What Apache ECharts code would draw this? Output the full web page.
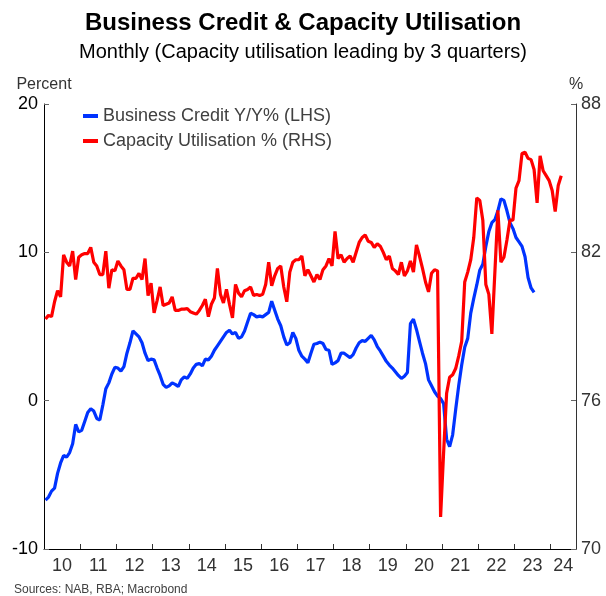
<!DOCTYPE html>
<html>
<head>
<meta charset="utf-8">
<script src="https://cdn.jsdelivr.net/npm/echarts@6/dist/echarts.min.js"></script>
<style>
  html, body { margin: 0; padding: 0; background: #fff; }
  #chart { width: 606px; height: 596px; }
</style>
</head>
<body>
<div id="chart"></div>
<script>
// monthly data, first value = Jan 2010
const startYear = 2010
const years = [2010, 2011, 2012, 2013, 2014, 2015, 2016, 2017, 2018, 2019, 2020, 2021, 2022, 2023, 2024]

// Business credit, year-on-year %, LHS
const businessCredit = [
  -6.7, -6.5, -6.1, -5.9, -4.9, -4.2, -3.7, -3.8, -3.5, -2.9,
  -1.6, -2.1, -2.0, -1.4, -0.8, -0.55, -0.7, -1.2, -1.3, -0.3,
  0.8, 1.2, 1.8, 2.25, 2.2, 2.0, 2.3, 3.2, 3.9, 4.7,
  4.5, 4.3, 3.9, 3.2, 2.7, 2.8, 2.75, 2.2, 1.7, 1.1,
  0.9, 1.0, 1.2, 1.1, 0.95, 1.4, 1.6, 1.5, 1.8, 2.2,
  2.45, 2.5, 2.35, 2.8, 2.75, 3.0, 3.4, 3.7, 4.0, 4.3,
  4.6, 4.75, 4.5, 4.6, 4.2, 4.3, 4.7, 5.3, 5.9, 5.8,
  5.65, 5.7, 5.65, 5.8, 5.95, 6.7, 6.1, 5.5, 5.05, 4.3,
  3.75, 3.9, 4.6, 4.2, 3.4, 3.0, 2.8, 2.55, 3.2, 3.8,
  3.85, 3.95, 3.85, 3.45, 3.4, 2.45, 2.55, 2.7, 3.2, 3.2,
  3.05, 2.9, 3.1, 3.55, 3.9, 4.05, 4.0, 4.2, 4.4, 4.1,
  3.65, 3.35, 3.0, 2.65, 2.4, 2.2, 1.95, 1.7, 1.5, 1.65,
  1.9, 5.2, 5.5, 4.8, 4.0, 3.2, 2.5, 1.4, 1.0, 0.6,
  0.3, 0.15, -0.2, -2.6, -3.1, -2.3, -0.6, 1.0, 2.4, 3.6,
  4.2, 5.9, 6.9, 7.8, 8.8, 9.2, 10.4, 11.4, 12.0, 12.2,
  12.8, 13.6, 13.5, 12.8, 12.0, 11.6, 11.0, 10.7, 10.4, 9.7,
  8.3, 7.6, 7.3
]

// NAB capacity utilisation %, shifted forward 3 quarters, RHS
const capacityUtil = [
  79.3, 79.45, 79.4, 80.0, 80.45, 80.2, 81.9, 81.6, 81.45, 82.05,
  80.9, 81.8, 81.9, 81.95, 81.95, 82.2, 81.6, 81.45, 81.1, 81.1,
  82.05, 80.55, 81.3, 81.25, 81.65, 81.45, 81.3, 80.5, 80.5, 80.95,
  80.95, 81.15, 80.9, 81.75, 80.25, 80.75, 79.55, 80.05, 80.6, 79.85,
  79.9, 79.95, 80.2, 79.65, 79.65, 79.7, 79.7, 79.72, 79.6, 79.55,
  79.5, 79.65, 79.85, 80.1, 79.4, 79.9, 80.15, 81.35, 80.3, 79.95,
  80.5, 79.9, 79.35, 80.7, 80.35, 80.2, 80.45, 80.5, 80.6, 80.25,
  80.3, 80.25, 80.3, 80.7, 81.6, 80.65, 81.05, 81.35, 81.45, 80.6,
  80.0, 81.2, 81.6, 81.7, 81.7, 81.85, 81.05, 81.3, 81.05, 80.8,
  81.1, 80.9, 81.3, 81.45, 81.75, 81.45, 82.85, 81.75, 81.9, 81.6,
  81.75, 81.85, 81.6, 82.0, 82.4, 82.6, 82.7, 82.45, 82.4, 82.2,
  82.35, 82.25, 82.0, 81.7, 81.85, 81.35, 81.25, 81.1, 81.6, 81.05,
  81.25, 81.65, 81.2, 82.3, 81.85, 81.35, 80.8, 80.4, 81.15, 81.3,
  81.25, 71.3, 73.9, 76.3, 76.95, 77.05, 77.3, 77.8, 78.4, 80.8,
  81.2, 81.7, 82.6, 84.2, 84.1, 83.3, 80.7, 80.3, 78.7, 81.2,
  83.7, 81.6, 81.8, 82.5, 83.3, 83.3, 84.6, 84.9, 86.0, 86.05,
  85.8, 85.75, 85.35, 84.0, 85.9, 85.3, 85.1, 84.9, 84.5, 83.65,
  84.7, 85.1
]

const xEnd = 2024.7
const toPairs = (vals) => vals.map((v, i) => [startYear + (i + 0.5) / 12, v])

// tick at each new year, label centred in the visible part of each year
const yearTicks = years.slice(1)
const yearLabelPos = years.map(y => (y + Math.min(y + 1, xEnd)) / 2)

const chart = echarts.init(document.getElementById('chart'))
const font = 'Liberation Sans, Arial, sans-serif'

const option = {
  animation: false,
  textStyle: { fontFamily: font },
  title: [
    {
      text: 'Business Credit & Capacity Utilisation',
      left: 'center', top: 11, padding: 0,
      textStyle: { fontSize: 24, fontWeight: 'bold', color: '#000', fontFamily: font }
    },
    {
      text: 'Monthly (Capacity utilisation leading by 3 quarters)',
      left: 'center', top: 42, padding: 0,
      textStyle: { fontSize: 20, fontWeight: 'normal', color: '#000', fontFamily: font }
    },
    {
      text: 'Sources: NAB, RBA; Macrobond',
      left: 14, top: 584, padding: 0,
      textStyle: { fontSize: 12, fontWeight: 'normal', color: '#404040', fontFamily: font }
    }
  ],
  legend: {
    orient: 'vertical',
    left: 83, top: 106, padding: 0,
    itemWidth: 15, itemHeight: 4, itemGap: 5,
    icon: 'rect',
    textStyle: { fontSize: 18, color: '#404040', lineHeight: 20, fontFamily: font },
    data: ['Business Credit Y/Y% (LHS)', 'Capacity Utilisation % (RHS)']
  },
  grid: { left: 44, right: 30, top: 104, bottom: 47 },
  xAxis: {
    type: 'value',
    min: startYear, max: xEnd,
    splitLine: { show: false },
    axisLine: { show: true, onZero: false, lineStyle: { color: '#000', width: 1 } },
    axisTick: { show: true, inside: true, length: 5, customValues: yearTicks, lineStyle: { color: '#333' } },
    axisLabel: {
      customValues: yearLabelPos, margin: 8,
      fontSize: 18, color: '#333', fontFamily: font,
      formatter: v => String(Math.floor(v) % 100).padStart(2, '0')
    }
  },
  yAxis: [
    {
      type: 'value', min: -10, max: 20, interval: 10,
      name: 'Percent', nameLocation: 'end', nameGap: 11,
      nameTextStyle: { fontSize: 16, color: '#333', fontFamily: font },
      splitLine: { show: false },
      axisLine: { show: true, lineStyle: { color: '#000', width: 1 } },
      axisTick: { show: true, inside: true, length: 5, lineStyle: { color: '#666' } },
      axisLabel: { fontSize: 18, color: '#000', margin: 6, fontFamily: font }
    },
    {
      type: 'value', min: 70, max: 88, interval: 6,
      name: '%', nameLocation: 'end', nameGap: 11,
      nameTextStyle: { fontSize: 16, color: '#333', fontFamily: font },
      splitLine: { show: false },
      axisLine: { show: true, lineStyle: { color: '#333', width: 1 } },
      axisTick: { show: true, inside: true, length: 5, lineStyle: { color: '#666' } },
      axisLabel: { fontSize: 18, color: '#333', margin: 5, fontFamily: font }
    }
  ],
  series: [
    {
      name: 'Business Credit Y/Y% (LHS)',
      type: 'line', yAxisIndex: 0,
      showSymbol: false,
      lineStyle: { color: '#0033ff', width: 3.2 },
      itemStyle: { color: '#0033ff' },
      data: toPairs(businessCredit)
    },
    {
      name: 'Capacity Utilisation % (RHS)',
      type: 'line', yAxisIndex: 1,
      showSymbol: false,
      lineStyle: { color: '#ff0000', width: 3.2 },
      itemStyle: { color: '#ff0000' },
      data: toPairs(capacityUtil)
    }
  ]
}

chart.setOption(option)
</script>
</body>
</html>
